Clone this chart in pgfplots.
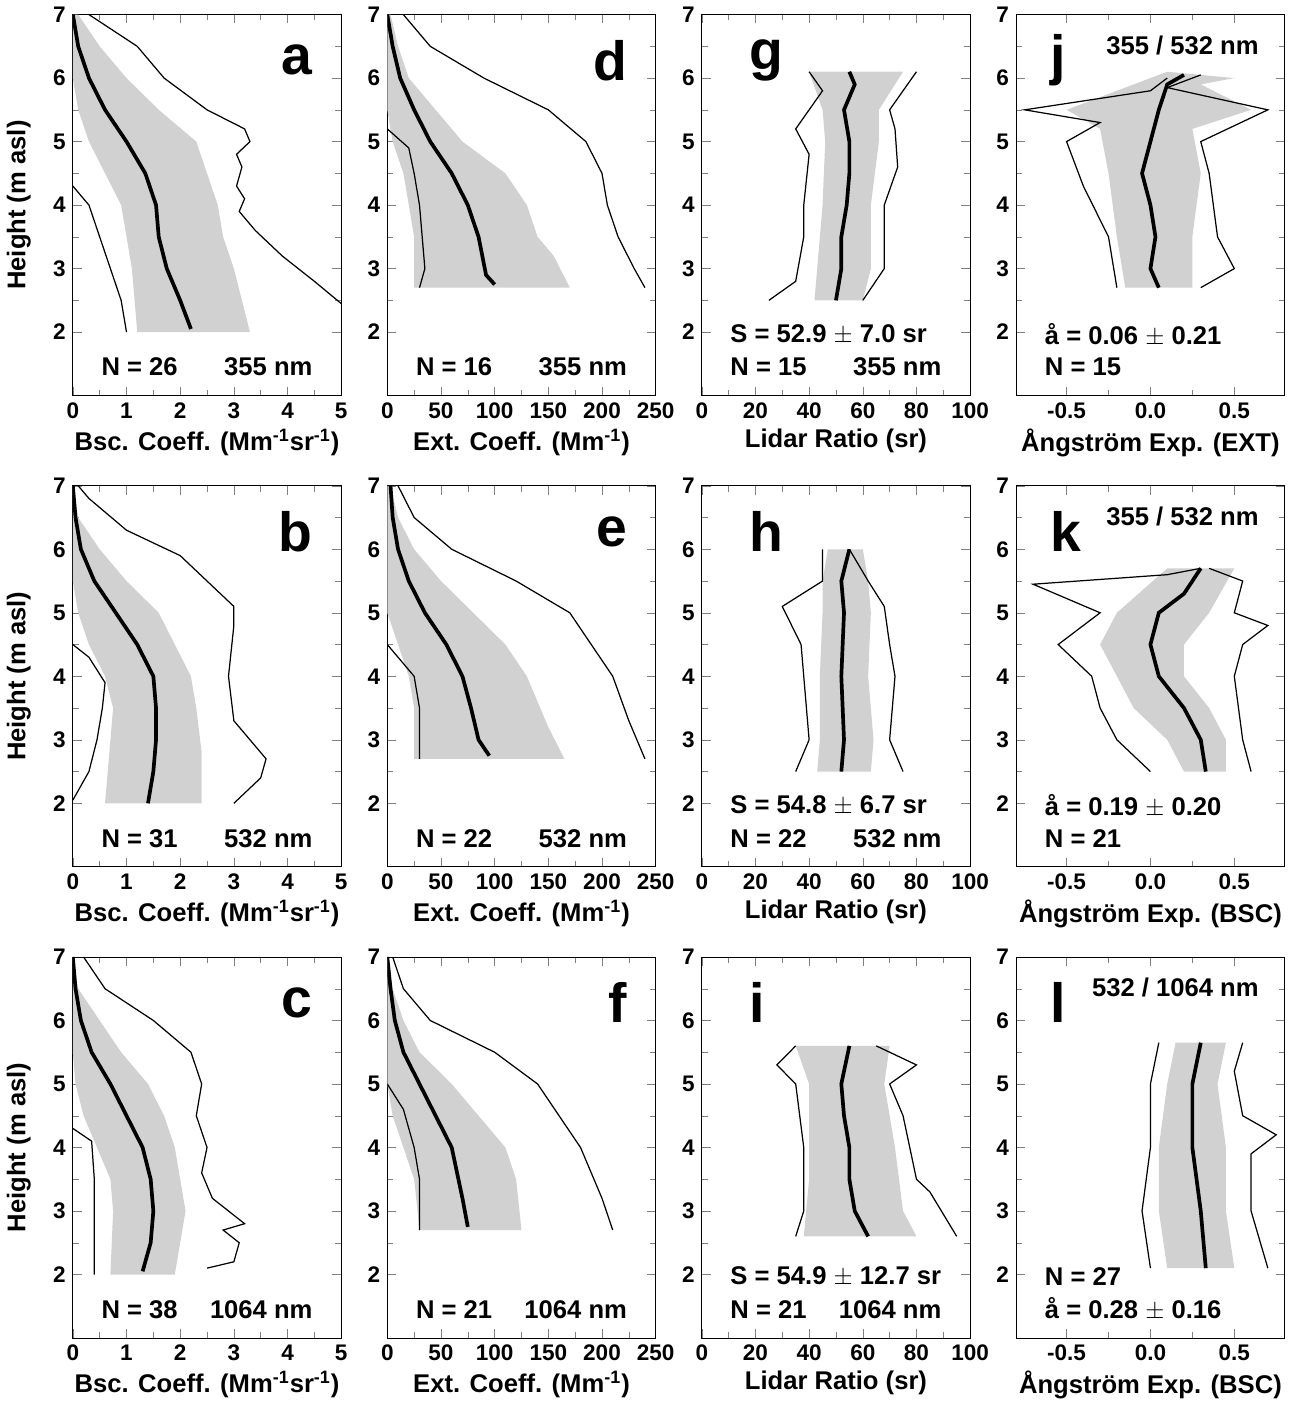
\documentclass[border=0pt]{standalone}
\usepackage{pgfplots}
\pgfplotsset{compat=1.18}
\usepgfplotslibrary{groupplots}
\usepackage{fontspec}
\setmainfont{Liberation Sans}
\newcommand\prof[4]{%
\addplot[fill=black!18,draw=none] coordinates {#1} -- cycle;
\addplot[black,line width=0.6pt] coordinates {#3};
\addplot[black,line width=0.6pt] coordinates {#4};
\addplot[black,line width=1.8pt] coordinates {#2};}
\newcommand\fs[1]{\fontsize{#1}{#1}\selectfont\bfseries}
\newcommand\lt[3]{\node[anchor=#1,font=\fs{12.5}] at (rel axis cs:#2) {#3};}
\begin{document}
\begin{tikzpicture}
\begin{groupplot}[group style={group size=4 by 3,horizontal sep=22.5pt,vertical sep=44pt},
 scale only axis,width=131pt,height=186pt,ymin=1,ymax=7,ytick={2,...,7},
 tick align=inside,minor tick num=1,xtick pos=both,ytick pos=both,
 /pgf/number format/assume math mode=true,
 tick label style={font=\fs{11}},label style={font=\fs{12.5}},
 ylabel style={yshift=4pt},xlabel style={yshift=2pt},
 every axis plot/.append style={no marks}]
% row 1
\nextgroupplot[xmin=0,xmax=5,xtick={0,...,5},ylabel={Height (m asl)},xlabel={Bsc. Coeff. (Mm\textsuperscript{-1}sr\textsuperscript{-1})}]
\prof{(1.2,2)(1.1,3)(1.0,3.5)(0.9,4)(0.6,4.5)(0.3,5)(0.1,5.5)(0,6)(0,7)(0.1,7)(0.5,6.5)(1.0,6)(1.6,5.5)(2.3,5)(2.5,4.5)(2.7,4)(2.8,3.5)(3.0,3)(3.3,2)}
{(2.2,2.05)(2.0,2.5)(1.75,3)(1.6,3.5)(1.55,4)(1.35,4.5)(1.0,5)(0.6,5.5)(0.3,6)(0.1,6.5)(0,7)}
{(1.0,2)(0.9,2.5)(0.7,3)(0.5,3.5)(0.3,4)(0.1,4.2)(0,4.3)}
{(5,2.45)(4.5,2.8)(3.9,3.2)(3.4,3.6)(3.1,3.9)(3.2,4.1)(3.05,4.3)(3.15,4.6)(3.05,4.8)(3.3,5.0)(3.2,5.2)(2.5,5.5)(1.7,6)(1.2,6.5)(0.3,7)}
\lt{west}{0.08,0.075}{N = 26}\lt{east}{0.92,0.075}{355 nm}\lt{east}{0.92,0.88}{\fs{27}a}
\nextgroupplot[xmin=0,xmax=250,xtick={0,50,...,250},xlabel={Ext. Coeff. (Mm\textsuperscript{-1})}]
\prof{(25,2.7)(25,3.5)(20,4)(15,4.5)(5,5)(0,5.5)(0,7)(3,7)(10,6.5)(20,6)(45,5.5)(70,5)(110,4.5)(130,4)(140,3.5)(155,3.2)(170,2.7)}
{(100,2.75)(92,2.9)(85,3.5)(75,4)(60,4.5)(40,5)(25,5.5)(12,6)(5,6.5)(0,7)}
{(30,2.7)(35,3)(30,4)(25,4.5)(20,4.9)(0,5.2)}
{(240,2.7)(230,3)(215,3.5)(205,4)(200,4.5)(185,5)(150,5.5)(90,6)(40,6.5)(15,7)}
\lt{west}{0.08,0.075}{N = 16}\lt{east}{0.92,0.075}{355 nm}\lt{east}{0.92,0.88}{\fs{27}d}
\nextgroupplot[xmin=0,xmax=100,xtick={0,20,...,100},xlabel={Lidar Ratio (sr)}]
\prof{(42,2.5)(43,3)(45,4)(46,5)(45,5.5)(40,6.1)(75,6.1)(66,5.5)(66,5)(63,4)(63,3)(60,2.5)}
{(50,2.5)(52,3)(52,3.5)(54,4)(55,4.5)(55,5)(53,5.5)(57,5.9)(55,6.1)}
{(25,2.5)(35,2.8)(38,3.5)(38,4)(40,4.8)(35,5.2)(45,5.8)(40,6.1)}
{(60,2.5)(68,3)(68,4)(73,4.6)(72,5.2)(70,5.5)(80,6.1)}
\lt{west}{0.08,0.16}{S = 52.9 $\pm$ 7.0 sr}\lt{west}{0.08,0.075}{N = 15}\lt{east}{0.92,0.075}{355 nm}\lt{west}{0.15,0.88}{\fs{27}g}
\nextgroupplot[xmin=-0.8,xmax=0.8,xtick={-0.5,0,0.5},xticklabels={-0.5,0.0,0.5},xlabel={Ångström Exp. (EXT)}]
\prof{(-0.15,2.7)(-0.2,3.5)(-0.25,4.5)(-0.3,5.2)(-0.5,5.5)(-0.1,5.9)(0.1,6.1)(0.5,6.0)(0.3,5.9)(0.6,5.5)(0.25,5.2)(0.3,4.5)(0.25,3.5)(0.25,2.7)}
{(0.05,2.7)(0.0,3)(0.03,3.5)(0.0,4)(-0.05,4.5)(0.0,5)(0.05,5.5)(0.1,5.9)(0.2,6.05)}
{(-0.2,2.7)(-0.25,3.5)(-0.4,4.3)(-0.5,5)(-0.3,5.3)(-0.75,5.5)(0.0,5.8)(0.1,6.0)}
{(0.3,2.7)(0.5,3)(0.4,3.5)(0.35,4.5)(0.3,5.0)(0.7,5.5)(0.1,5.85)(0.3,6.05)}
\lt{west}{0.08,0.16}{å = 0.06 $\pm$ 0.21}\lt{west}{0.08,0.075}{N = 15}\lt{east}{0.93,0.92}{355 / 532 nm}\lt{west}{0.1,0.88}{\fs{27}j}
% row 2
\nextgroupplot[xmin=0,xmax=5,xtick={0,...,5},ylabel={Height (m asl)},xlabel={Bsc. Coeff. (Mm\textsuperscript{-1}sr\textsuperscript{-1})}]
\prof{(0.6,2)(0.7,3)(0.75,3.5)(0.6,4)(0.3,4.5)(0.1,5)(0,5.5)(0,7)(0.1,6.5)(0.5,6)(1.0,5.5)(1.6,5)(1.9,4.5)(2.2,4)(2.3,3.5)(2.4,2.8)(2.4,2)}
{(1.4,2)(1.5,2.5)(1.55,3)(1.55,3.5)(1.5,4)(1.2,4.5)(0.8,5)(0.4,5.5)(0.15,6)(0.05,6.5)(0,7)}
{(0,2.05)(0.3,2.5)(0.45,3)(0.55,3.5)(0.6,3.9)(0.3,4.3)(0,4.5)}
{(3.0,2.0)(3.5,2.4)(3.6,2.7)(3.3,3)(3.0,3.3)(2.9,4)(3.0,4.8)(3.0,5.1)(2.0,5.9)(1.0,6.3)(0.3,6.8)(0.1,7)}
\lt{west}{0.08,0.075}{N = 31}\lt{east}{0.92,0.075}{532 nm}\lt{east}{0.92,0.88}{\fs{27}b}
\nextgroupplot[xmin=0,xmax=250,xtick={0,50,...,250},xlabel={Ext. Coeff. (Mm\textsuperscript{-1})}]
\prof{(25,2.7)(25,3.5)(20,4)(10,4.5)(0,5)(0,7)(3,7)(10,6.5)(25,6)(50,5.5)(80,5)(110,4.5)(130,4)(150,3.2)(165,2.7)}
{(95,2.75)(85,3)(78,3.5)(70,4)(55,4.5)(35,5)(20,5.5)(10,6)(5,6.5)(3,7)}
{(30,2.7)(30,3.5)(25,4)(10,4.3)(0,4.5)}
{(240,2.7)(225,3.3)(210,4)(190,4.5)(170,5)(120,5.5)(60,6)(25,6.5)(10,7)}
\lt{west}{0.08,0.075}{N = 22}\lt{east}{0.92,0.075}{532 nm}\lt{east}{0.92,0.88}{\fs{27}e}
\nextgroupplot[xmin=0,xmax=100,xtick={0,20,...,100},xlabel={Lidar Ratio (sr)}]
\prof{(43,2.5)(44,3)(44,4)(45,5)(45,5.5)(47,6)(60,6)(62,5.5)(63,5)(62,4)(64,3)(63,2.5)}
{(52,2.5)(53,3)(52,4)(53,5)(52,5.5)(55,6)}
{(35,2.5)(40,3)(38,4)(37,4.5)(30,5.1)(45,5.5)(45,6)}
{(75,2.5)(70,3)(72,4)(70,4.5)(68,5.1)(62,5.5)(55,6)}
\lt{west}{0.08,0.16}{S = 54.8 $\pm$ 6.7 sr}\lt{west}{0.08,0.075}{N = 22}\lt{east}{0.92,0.075}{532 nm}\lt{west}{0.15,0.88}{\fs{27}h}
\nextgroupplot[xmin=-0.8,xmax=0.8,xtick={-0.5,0,0.5},xticklabels={-0.5,0.0,0.5},xlabel={Ångström Exp. (BSC)}]
\prof{(0.2,2.5)(0.1,3)(-0.1,3.5)(-0.2,4)(-0.3,4.5)(-0.2,5)(0.1,5.7)(0.5,5.7)(0.35,5)(0.2,4.5)(0.2,4)(0.35,3.5)(0.45,3)(0.45,2.5)}
{(0.33,2.5)(0.3,3)(0.2,3.5)(0.05,4)(0.0,4.5)(0.05,5)(0.2,5.3)(0.3,5.7)}
{(0.0,2.5)(-0.2,3)(-0.3,3.5)(-0.35,4)(-0.55,4.5)(-0.3,5.0)(-0.7,5.45)(0.1,5.6)(0.3,5.7)}
{(0.6,2.5)(0.55,3)(0.5,4)(0.55,4.5)(0.7,4.8)(0.5,5)(0.55,5.5)(0.35,5.7)}
\lt{west}{0.08,0.16}{å = 0.19 $\pm$ 0.20}\lt{west}{0.08,0.075}{N = 21}\lt{east}{0.93,0.92}{355 / 532 nm}\lt{west}{0.1,0.88}{\fs{27}k}
% row 3
\nextgroupplot[xmin=0,xmax=5,xtick={0,...,5},ylabel={Height (m asl)},xlabel={Bsc. Coeff. (Mm\textsuperscript{-1}sr\textsuperscript{-1})}]
\prof{(0.7,2)(0.75,3)(0.7,3.5)(0.45,4)(0.2,4.5)(0.05,5)(0,5.5)(0,7)(0.1,6.5)(0.5,6)(0.9,5.5)(1.4,5)(1.7,4.5)(1.9,4)(2.0,3.5)(2.1,3)(1.9,2)}
{(1.3,2.05)(1.45,2.5)(1.5,3)(1.45,3.5)(1.3,4)(1.0,4.5)(0.7,5)(0.35,5.5)(0.15,6)(0.05,6.5)(0,7)}
{(0.4,2)(0.4,3.5)(0.35,4.1)(0,4.3)}
{(2.5,2.1)(3.0,2.2)(3.1,2.5)(2.8,2.7)(3.2,2.8)(2.6,3.2)(2.4,3.6)(2.5,4)(2.3,4.5)(2.4,5)(2.2,5.5)(1.5,6)(0.6,6.5)(0.2,7)}
\lt{west}{0.08,0.075}{N = 38}\lt{east}{0.92,0.075}{1064 nm}\lt{east}{0.92,0.88}{\fs{27}c}
\nextgroupplot[xmin=0,xmax=250,xtick={0,50,...,250},xlabel={Ext. Coeff. (Mm\textsuperscript{-1})}]
\prof{(30,2.7)(25,3.5)(15,4)(5,4.5)(0,5)(0,7)(5,6.5)(15,6)(30,5.5)(60,5)(85,4.5)(110,4)(120,3.5)(125,2.7)}
{(75,2.75)(70,3.2)(60,4)(45,4.5)(30,5)(15,5.5)(7,6)(3,6.5)(0,7)}
{(30,2.7)(30,3.5)(25,4)(15,4.6)(0,5)}
{(210,2.7)(200,3.2)(180,4)(160,4.5)(140,5)(100,5.5)(40,6)(15,6.5)(5,7)}
\lt{west}{0.08,0.075}{N = 21}\lt{east}{0.92,0.075}{1064 nm}\lt{east}{0.92,0.88}{\fs{27}f}
\nextgroupplot[xmin=0,xmax=100,xtick={0,20,...,100},xlabel={Lidar Ratio (sr)}]
\prof{(38,2.6)(40,3.5)(40,4.5)(40,5)(35,5.6)(70,5.6)(68,5)(72,4)(75,3)(80,2.6)}
{(62,2.6)(57,3)(55,3.5)(55,4)(53,4.5)(52,5)(55,5.6)}
{(35,2.6)(38,3)(38,4)(35,5)(28,5.3)(35,5.6)}
{(95,2.6)(85,3.3)(80,3.5)(75,4.5)(70,5)(80,5.3)(65,5.6)}
\lt{west}{0.08,0.16}{S = 54.9 $\pm$ 12.7 sr}\lt{west}{0.08,0.075}{N = 21}\lt{east}{0.92,0.075}{1064 nm}\lt{west}{0.15,0.88}{\fs{27}i}
\nextgroupplot[xmin=-0.8,xmax=0.8,xtick={-0.5,0,0.5},xticklabels={-0.5,0.0,0.5},xlabel={Ångström Exp. (BSC)}]
\prof{(0.1,2.1)(0.05,3)(0.05,4)(0.1,5)(0.15,5.65)(0.45,5.65)(0.4,5)(0.45,4)(0.45,3)(0.5,2.1)}
{(0.33,2.1)(0.3,3)(0.25,4)(0.25,5)(0.3,5.65)}
{(0.0,2.1)(-0.05,3)(0.0,4)(0.0,5)(0.05,5.65)}
{(0.7,2.1)(0.6,3)(0.6,3.9)(0.75,4.2)(0.55,4.5)(0.5,5.2)(0.55,5.65)}
\lt{west}{0.08,0.16}{N = 27}\lt{west}{0.08,0.075}{å = 0.28 $\pm$ 0.16}\lt{east}{0.93,0.92}{532 / 1064 nm}\lt{west}{0.1,0.88}{\fs{27}l}
\end{groupplot}
\end{tikzpicture}
\end{document}
